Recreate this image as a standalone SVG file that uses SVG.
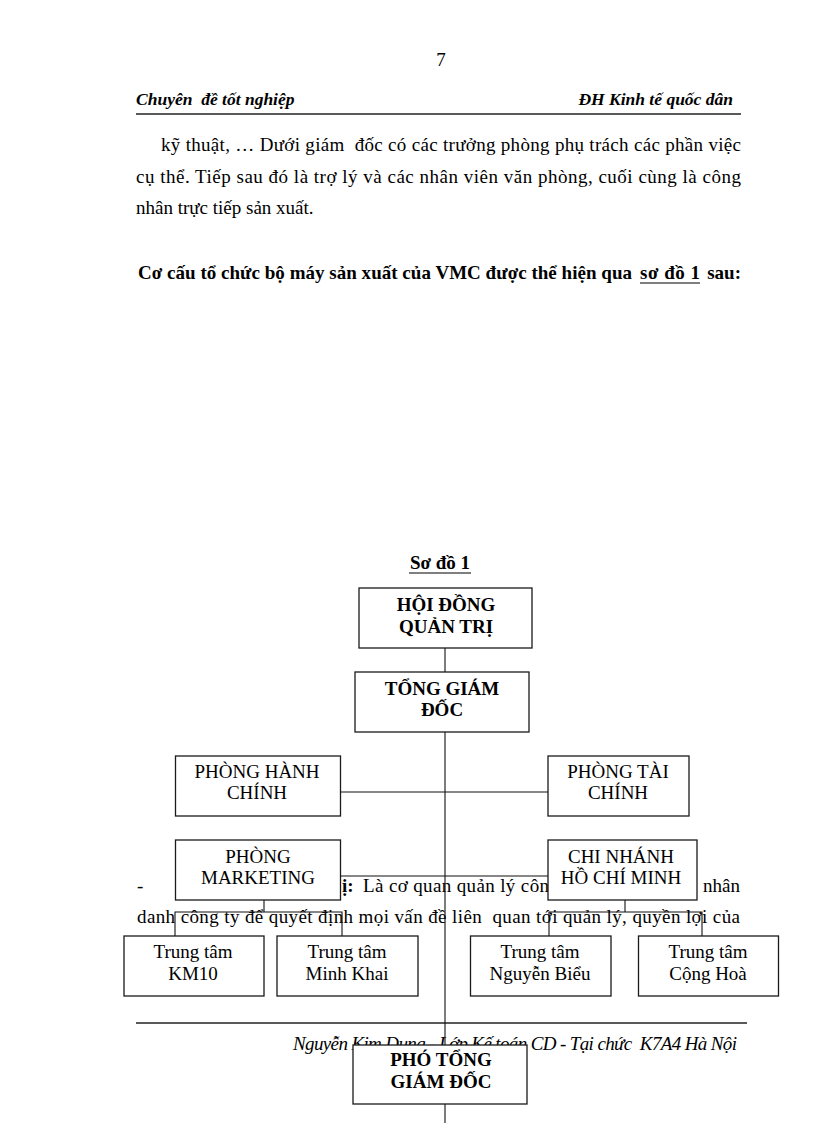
<svg xmlns="http://www.w3.org/2000/svg" width="816" height="1123" viewBox="0 0 816 1123">
<style>
text{font-family:"Liberation Serif","Times New Roman",serif;fill:#000;font-size:19px}
.b{font-weight:bold}
.i{font-style:italic}
.c{text-anchor:middle}
.box{fill:#fff;stroke:#1a1a1a;stroke-width:1.3}
.ln{stroke:#111;stroke-width:1.1;fill:none}
.rule{stroke:#222;stroke-width:1.5}
</style>
<rect width="816" height="1123" fill="#fff"/>
<g id="page-text">
<text x="441" y="66" class="c">7</text>
<text x="136" y="105" class="b i" style="font-size:17.5px" xml:space="preserve">Chuyên  đề tốt nghiệp</text>
<text x="733" y="105" class="b i" style="font-size:17.5px;text-anchor:end">ĐH Kinh tế quốc dân</text>
<line x1="136" y1="114" x2="741" y2="114" class="rule"/>
<text x="161" y="151" textLength="580" lengthAdjust="spacing" xml:space="preserve">kỹ thuật, … Dưới giám  đốc có các trưởng phòng phụ trách các phần việc</text>
<text x="136" y="183" textLength="605" lengthAdjust="spacing">cụ thể. Tiếp sau đó là trợ lý và các nhân viên văn phòng, cuối cùng là công</text>
<text x="136" y="214">nhân trực tiếp sản xuất.</text>
<text x="138" y="279" class="b" textLength="494" lengthAdjust="spacing">Cơ cấu tổ chức bộ máy sản xuất của VMC được thể hiện qua</text>
<text x="640" y="279" class="b" textLength="60" lengthAdjust="spacing">sơ đồ 1</text>
<line x1="640" y1="283" x2="700" y2="283" stroke="#000" stroke-width="1.2"/>
<text x="741" y="279" class="b" style="text-anchor:end">sau:</text>
<text x="137" y="892">-</text>
<text x="342" y="892" class="b">ị:</text>
<text x="363" y="892" textLength="186" lengthAdjust="spacing">Là cơ quan quản lý côn</text>
<text x="740" y="892" style="text-anchor:end">nhân</text>
<text x="137" y="923" textLength="603" lengthAdjust="spacing" xml:space="preserve">danh công ty để quyết định mọi vấn đề liên  quan tới quản lý, quyền lợi của</text>
<line x1="136" y1="1023" x2="747" y2="1023" class="rule"/>
<text x="293" y="1050" class="i" textLength="444" lengthAdjust="spacing" xml:space="preserve">Nguyễn Kim Dung - Lớp Kế toán CD - Tại chức  K7A4 Hà Nội</text>
</g>
<g id="title">
<text x="440" y="569" class="b c">Sơ đồ 1</text>
<line x1="409" y1="573" x2="471" y2="573" stroke="#000" stroke-width="1.2"/>
</g>
<g id="connectors">
<line x1="445" y1="648" x2="445" y2="672" class="ln"/>
<line x1="445" y1="732" x2="445" y2="1123" class="ln"/>
<line x1="341" y1="792" x2="548" y2="792" class="ln"/>
<line x1="341" y1="876" x2="548" y2="876" class="ln"/>
<polyline points="264,900 264,912" class="ln"/>
<polyline points="175,936 175,912 342,912 342,936" class="ln"/>
<polyline points="625,900 625,912" class="ln"/>
<polyline points="549,936 549,912 702,912 702,936" class="ln"/>
</g>
<g id="hdqt">
<rect x="359" y="588" width="173" height="60" class="box"/>
<text x="446" y="611" class="b c">HỘI ĐỒNG</text>
<text x="446" y="633" class="b c">QUẢN TRỊ</text>
</g>
<g id="tgd">
<rect x="355" y="672" width="174" height="60" class="box"/>
<text x="442" y="695" class="b c">TỔNG GIÁM</text>
<text x="442" y="716" class="b c">ĐỐC</text>
</g>
<g id="phong-hanh-chinh">
<rect x="175.5" y="756" width="165" height="60" class="box"/>
<text x="257" y="778" class="c">PHÒNG HÀNH</text>
<text x="257" y="799" class="c">CHÍNH</text>
</g>
<g id="phong-tai-chinh">
<rect x="548" y="756" width="141" height="60" class="box"/>
<text x="618" y="778" class="c">PHÒNG TÀI</text>
<text x="618" y="799" class="c">CHÍNH</text>
</g>
<g id="phong-marketing">
<rect x="175.5" y="840" width="165" height="60" class="box"/>
<text x="258" y="863" class="c">PHÒNG</text>
<text x="258" y="884" class="c">MARKETING</text>
</g>
<g id="chi-nhanh-hcm">
<rect x="548" y="840" width="149" height="60" class="box"/>
<text x="621" y="863" class="c">CHI NHÁNH</text>
<text x="621" y="884" class="c">HỒ CHÍ MINH</text>
</g>
<g id="tt-km10">
<rect x="124" y="936" width="140" height="60" class="box"/>
<text x="193" y="958" class="c">Trung tâm</text>
<text x="193" y="980" class="c">KM10</text>
</g>
<g id="tt-minh-khai">
<rect x="277" y="936" width="141" height="60" class="box"/>
<text x="347" y="958" class="c">Trung tâm</text>
<text x="347" y="980" class="c">Minh Khai</text>
</g>
<g id="tt-nguyen-bieu">
<rect x="470.5" y="936" width="140.5" height="60" class="box"/>
<text x="540" y="958" class="c">Trung tâm</text>
<text x="540" y="980" class="c">Nguyễn Biểu</text>
</g>
<g id="tt-cong-hoa">
<rect x="638.5" y="936" width="140" height="60" class="box"/>
<text x="708" y="958" class="c">Trung tâm</text>
<text x="708" y="980" class="c">Cộng Hoà</text>
</g>
<g id="ptgd">
<rect x="353" y="1045" width="174" height="59" class="box"/>
<text x="441" y="1066" class="b c">PHÓ TỔNG</text>
<text x="441" y="1088" class="b c">GIÁM ĐỐC</text>
</g>
</svg>
